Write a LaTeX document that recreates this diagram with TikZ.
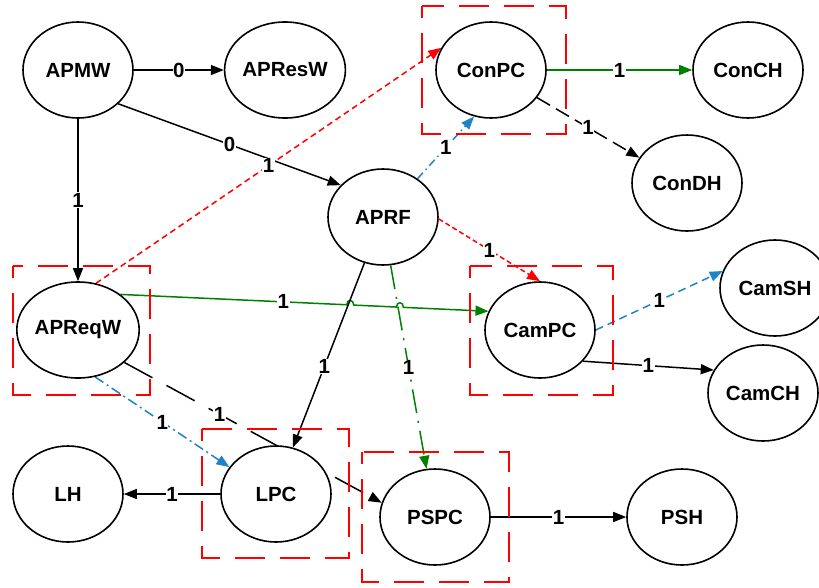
\documentclass[tikz,border=0pt]{standalone}
\usepackage{fontspec}
\setmainfont{Liberation Sans}
\usetikzlibrary{shapes.geometric,arrows.meta,calc}
\pgfdeclarelayer{edges}
\pgfsetlayers{edges,main}
\definecolor{linkblue}{RGB}{30,132,198}
\definecolor{linkgreen}{RGB}{0,128,0}
\tikzset{
STATE/.style={draw=black,ellipse,fill=white,line width=1.6pt,minimum width=110pt,minimum height=96pt,inner sep=0pt,font=\fontsize{20.5}{24}\selectfont\bfseries},
GROUP/.style={draw=red,line width=1.5pt,dash pattern=on 30pt off 15pt,dash phase=18pt},
ARC/.style={line width=1.5pt,-{Triangle[length=13pt,width=10pt]}},
WEIGHT/.style={fill=white,inner sep=0.5pt,text=black,font=\fontsize{20.5}{24}\selectfont\bfseries},
REDDASH/.style={draw=red,dash pattern=on 6pt off 4pt},
BLUEDOT/.style={draw=linkblue,dash pattern=on 8pt off 4pt on 1.5pt off 4pt},
}

\begin{document}
\begin{tikzpicture}
[x=1pt,y=-1pt]
	\useasboundingbox (0,0) rectangle (819,587);
	%States
	\node[STATE] (APMW) at (78,70) {APMW};
	\node[STATE] (APResW) at (285,70) {APResW};
	\node[STATE] (ConPC) at (491,70) {ConPC};
	\node[STATE] (ConCH) at (748,70) {ConCH};
	\node[STATE] (ConDH) at (687,183) {ConDH};
	\node[STATE] (APRF) at (383,217) {APRF};
	\node[STATE] (APReqW) at (78,330) {APReqW};
	\node[STATE] (CamPC) at (540,330) {CamPC};
	\node[STATE] (CamSH) at (775,288) {CamSH};
	\node[STATE] (CamCH) at (763,393) {CamCH};
	\node[STATE] (LH) at (68,494) {LH};
	\node[STATE] (LPC) at (276,494) {LPC};
	\node[STATE] (PSPC) at (435,517) {PSPC};
	\node[STATE] (PSH) at (682,517) {PSH};
	%Transitions
	\begin{pgfonlayer}{edges}
	\draw[ARC] (APMW.east) -- node[WEIGHT]{0} (APResW.west);
	\draw[ARC] (APMW.-40) -- node[WEIGHT]{0} (APRF.143);
	\draw[ARC] (APMW.south) -- node[WEIGHT]{1} (APReqW.north);
	\draw[ARC,REDDASH,red] (APReqW.69) -- node[WEIGHT]{1} (ConPC.156);
	\draw[ARC,BLUEDOT,linkblue] (APRF.48) -- node[WEIGHT]{1} (ConPC.-110);
	\draw[ARC,linkgreen] (ConPC.east) -- node[WEIGHT]{1} (ConCH.west);
	\draw[ARC,dash pattern=on 15pt off 7pt] (ConPC.-31) -- node[WEIGHT]{1} (ConDH.152);
	\draw[ARC,REDDASH,red,dash pattern=on 5pt off 3pt] (APRF.-2) -- node[WEIGHT]{1} (CamPC.north);
	\draw[ARC,linkgreen] (APReqW.40)
		-- node[WEIGHT,pos=0.72]{1} ($(APReqW.40)!0.615!(CamPC.160)$)
		.. controls +(0,-6) and +(0,-6) .. ($(APReqW.40)!0.634!(CamPC.160)$)
		-- ($(APReqW.40)!0.750!(CamPC.160)$)
		.. controls +(0,-6) and +(0,-6) .. ($(APReqW.40)!0.769!(CamPC.160)$)
		-- (CamPC.160);
	\draw[ARC] (APRF.-112) -- node[WEIGHT,pos=0.56]{1} (LPC.70);
	\draw[ARC,linkgreen,dash pattern=on 24pt off 8pt on 2pt off 8pt] (APRF.-81) -- node[WEIGHT]{1} (PSPC.100);
	\draw[ARC,linkblue,dash pattern=on 8pt off 5pt] (CamPC.east) -- node[WEIGHT]{1} (CamSH.162);
	\draw[ARC] (CamPC.-36) -- node[WEIGHT]{1} (CamCH.155);
	\draw[ARC,BLUEDOT,dash pattern=on 10pt off 4pt on 2pt off 4pt] (APReqW.-70) -- node[WEIGHT]{1} (LPC.150);
	\draw[ARC,dash pattern=on 32pt off 16pt] (APReqW.-35) -- node[WEIGHT,pos=0.37]{1} (PSPC.165);
	\draw[ARC] (LPC.west) -- node[WEIGHT]{1} (LH.east);
	\draw[ARC] (PSPC.east) -- node[WEIGHT]{1} (PSH.west);
	\end{pgfonlayer}
	%Groups
	\draw[GROUP] (422,6) rectangle (566,134);
	\draw[GROUP] (13,266) rectangle (150,395);
	\draw[GROUP] (470,266) rectangle (613,395);
	\draw[GROUP] (202,429) rectangle (349,558);
	\draw[GROUP] (362,452) rectangle (509,582);
\end{tikzpicture}
\end{document}
